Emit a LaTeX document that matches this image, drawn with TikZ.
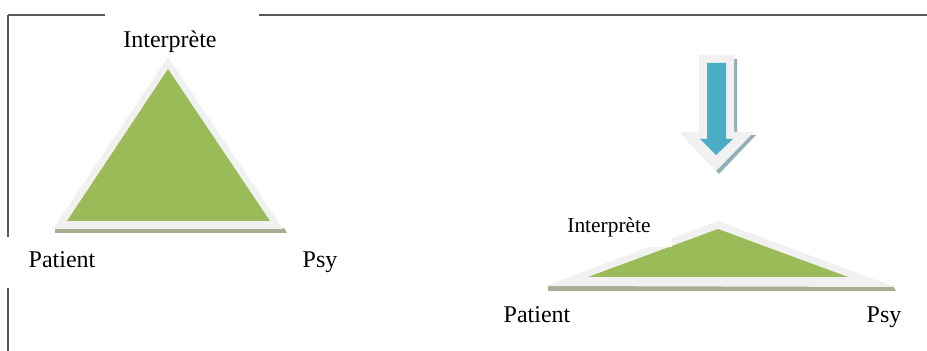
\documentclass[tikz,border=0pt]{standalone}
\usepackage{fontspec}
\setmainfont{Liberation Serif}
\usetikzlibrary{positioning, calc}
\definecolor{leaf}{RGB}{155,187,89}
\definecolor{rim}{RGB}{241,241,241}
\definecolor{leafshade}{RGB}{166,174,148}
\definecolor{sky}{RGB}{75,172,198}
\definecolor{skyshade}{RGB}{146,174,184}
\definecolor{frame}{RGB}{89,89,89}
\tikzset{
  border/.style={draw=frame, line width=0.8},
  tag/.style={inner sep=0pt, anchor=base, font=\fontsize{12}{14}\selectfont},
  smalltag/.style={inner sep=0pt, anchor=base, font=\fontsize{10.7}{13}\selectfont},
}

\begin{document}
\begin{tikzpicture}[x=0.5pt, y=-0.5pt]
  \useasboundingbox (0,0) rectangle (927,351);

  % frame (gaps where the text boxes sit)
  \draw[border] (8,15) -- (105,15);
  \draw[border] (259,15) -- (927,15);
  \draw[border] (8,15) -- (8,237);
  \draw[border] (8,288) -- (8,351);

  % left triangle
  \fill[leafshade] (55,228) -- (284,228) -- (287,233) -- (55,233) -- cycle;
  \fill[rim] (168,57) -- (283,229) -- (53,229) -- cycle;
  \fill[leaf] (168,69) -- (270,221) -- (67,221) -- cycle;

  \node[tag] (topL) at (170,48) {Interprète};
  \node[tag] (patL) at (62,268) {Patient};
  \node[tag] (psyL) at (320,268) {Psy};

  % arrow
  \fill[skyshade] (702,59) -- (737,59) -- (737,135) -- (756,135)
        -- (719,174) -- (683,135) -- (702,135) -- cycle;
  \fill[rim] (699,55) -- (734,55) -- (734,132) -- (754,132)
        -- (716,171) -- (680,132) -- (699,132) -- cycle;
  \fill[sky] (707,63) -- (726,63) -- (726,139) -- (733,139)
        -- (716,155) -- (700,139) -- (707,139) -- cycle;

  % flattened triangle
  \fill[leafshade] (548,286) -- (893,286) -- (896,291) -- (548,291) -- cycle;
  \fill[rim] (718,221) -- (895,287) -- (545,286) -- cycle;
  \fill[leaf] (718,229) -- (848,277) -- (588,277) -- cycle;
  \fill[white] (560,205) rectangle (672,247);

  \node[smalltag] (topR) at (609,233) {Interprète};
  \node[tag] (patR) at (537,323) {Patient};
  \node[tag] (psyR) at (884,323) {Psy};
\end{tikzpicture}
\end{document}
